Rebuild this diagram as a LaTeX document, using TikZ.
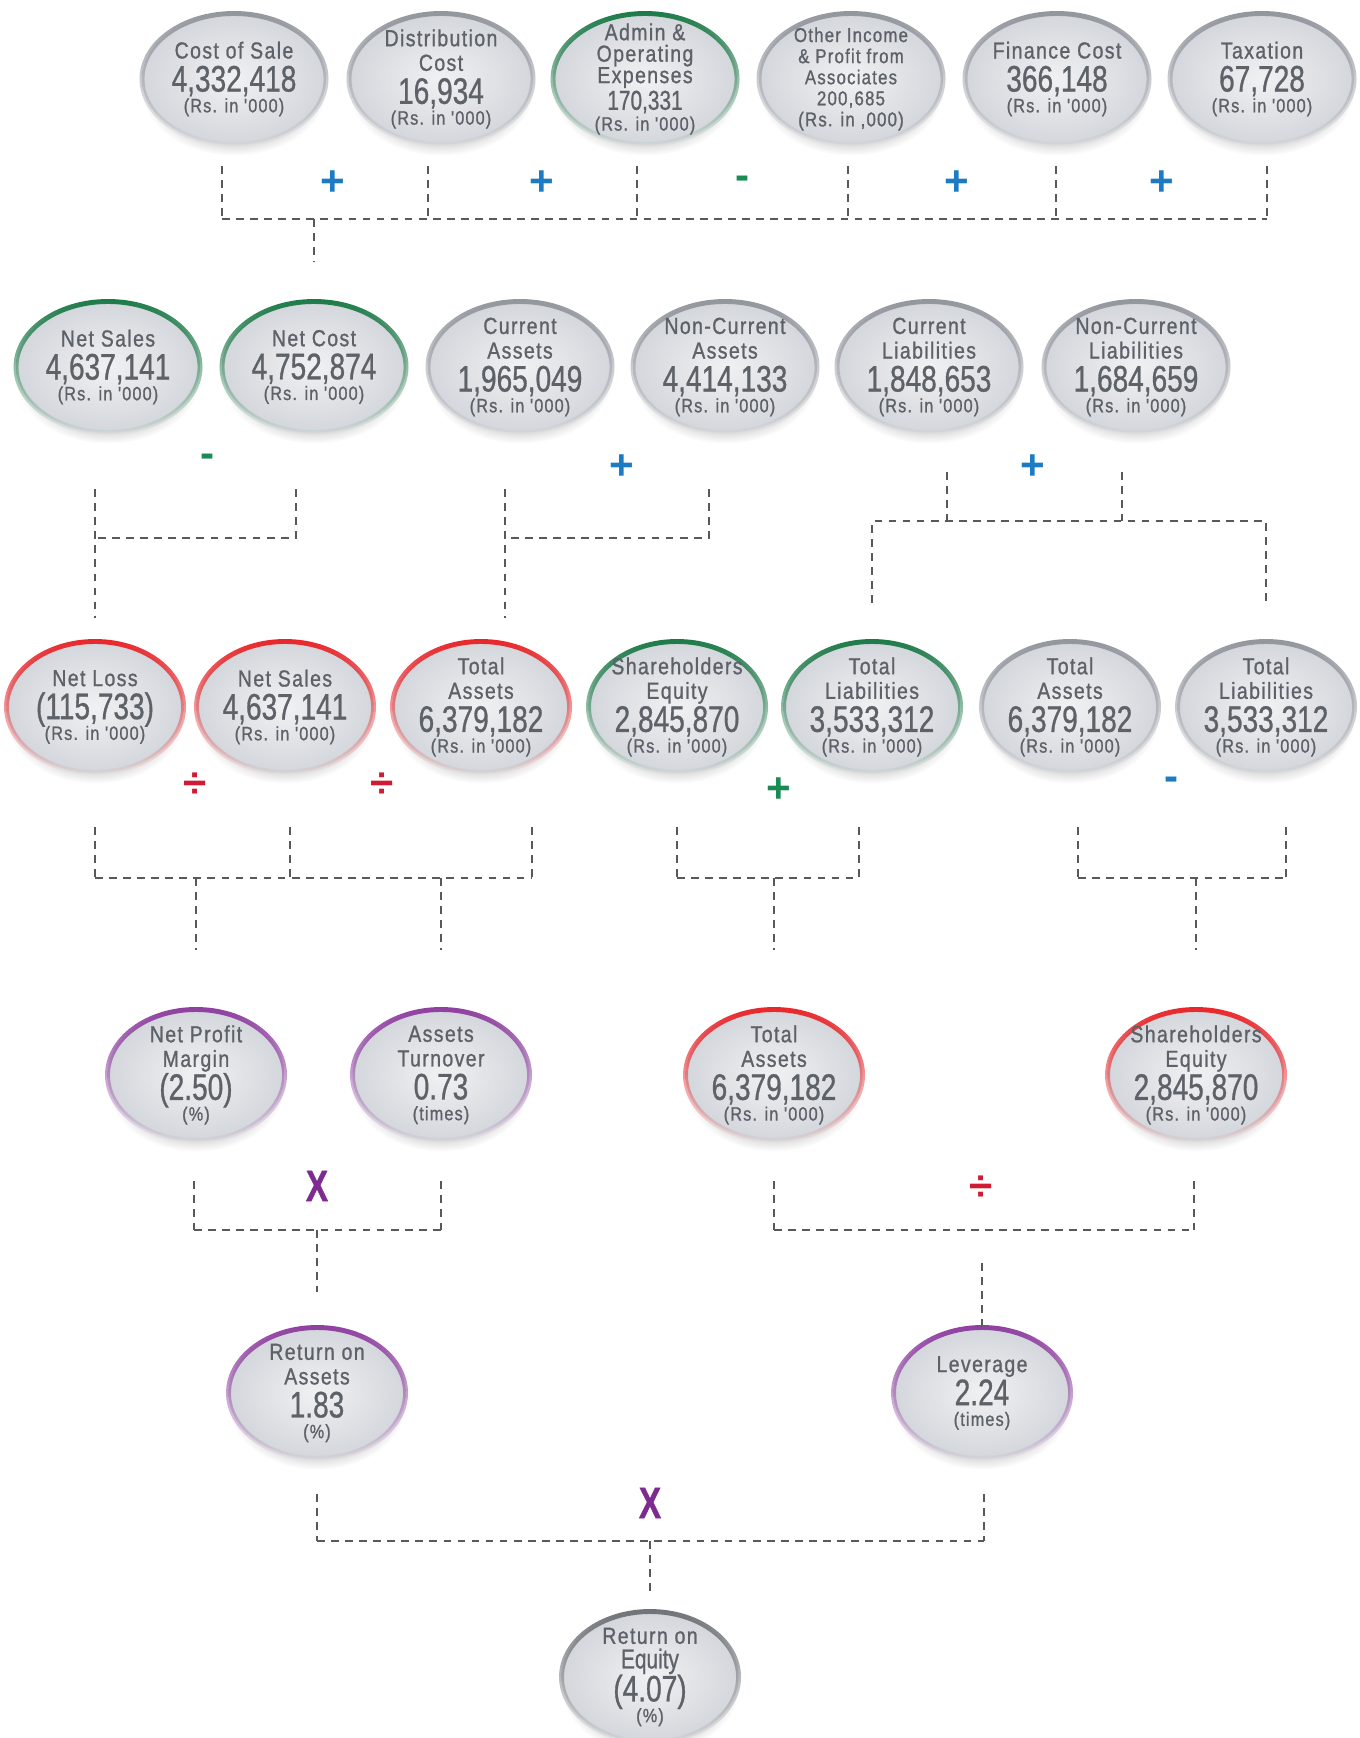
\documentclass[tikz,border=0pt]{standalone}
\usepackage{fontspec}
\usepackage{xcolor}
\usetikzlibrary{shapes.geometric,fadings}

\setmainfont{Liberation Sans}
\newfontfamily\trackfont[FakeStretch=0.84,LetterSpace=6,FakeBold=1]{Liberation Sans}
\newfontfamily\condfont[FakeStretch=0.76,FakeBold=0.8]{Liberation Sans}

\definecolor{txt}{HTML}{5D6168}
\definecolor{ovalin}{HTML}{F0F1F3}
\definecolor{ovalout}{HTML}{D3D6DB}
\definecolor{rimgrey}{HTML}{92969D}
\definecolor{rimdark}{HTML}{6F7277}
\definecolor{rimgreen}{HTML}{1D7A48}
\definecolor{rimred}{HTML}{E8262A}
\definecolor{rimpurple}{HTML}{8F3FA0}
\definecolor{linkgrey}{HTML}{595959}
\definecolor{opblue}{HTML}{1C7BC2}
\definecolor{opgreen}{HTML}{1A8B54}
\definecolor{opred}{HTML}{CF1B34}
\definecolor{oppurple}{HTML}{7D2B90}

\newcommand{\ovalfont}{\trackfont\fontsize{6.6}{7}\selectfont\lineskiplimit=-\maxdimen}
\newcommand{\smallfont}{\trackfont\fontsize{5.7}{6}\selectfont\lineskiplimit=-\maxdimen}
\newcommand{\valfont}{\condfont\fontsize{10.5}{7}\selectfont}
\newcommand{\midfont}{\condfont\fontsize{7.8}{7}\selectfont}
\newcommand{\unitfont}{\trackfont\fontsize{5.5}{7}\selectfont}
\newcommand{\opfont}{\bfseries\fontsize{12}{12}\selectfont}
\newcommand{\crossfont}{\condfont\bfseries\fontsize{12.5}{12}\selectfont}
\newcommand{\val}[1]{\\[2.4pt]{\valfont #1}\\[-1.1pt]}
\newcommand{\rsunit}{{\unitfont (Rs. in '000)}}

\tikzfading[name=rimfade, top color=transparent!0, middle color=transparent!15, bottom color=transparent!100]

\tikzset{
  oval/.style={ellipse, minimum width=1.84cm, minimum height=1.31cm, inner sep=-1cm,
    align=center, text=txt, font=\ovalfont, inner color=ovalin, outer color=ovalout,
    preaction={fill=black!50, fill opacity=0.3, path fading=circle with fuzzy edge 20 percent,
      transform canvas={yshift=-1.1mm}},
    postaction={draw=#1, line width=1.4pt, path fading=rimfade}},
  oval/.default=rimgrey,
  narrow/.style={minimum width=1.77cm},
  link/.style={draw=linkgrey, line width=0.5pt, dash pattern=on 2.2pt off 1.8pt},
  op/.style={text=#1, inner sep=0pt, font=\opfont},
}

\begin{document}
\begin{tikzpicture}
  \fill[white] (0,0) rectangle (13.6,-17.38);
  \useasboundingbox (0,0) rectangle (13.6,-17.38);

  % costs
  \node[oval] (cos) at (2.34,-0.79) {Cost of Sale\val{4,332,418}\rsunit};
  \node[oval] (dist) at (4.41,-0.79) {Distribution\\Cost\val{16,934}\rsunit};
  \node[oval=rimgreen] (admin) at (6.45,-0.79) {Admin \&\\[-0.9pt]Operating\\[-0.9pt]Expenses\\[0.6pt]{\midfont 170,331}\\[-1.1pt]\rsunit};
  \node[oval, font=\smallfont] (othinc) at (8.51,-0.79) {Other Income\\\& Profit from\\Associates\\200,685\\(Rs. in ,000)};
  \node[oval] (fin) at (10.57,-0.79) {Finance Cost\val{366,148}\rsunit};
  \node[oval] (tax) at (12.62,-0.79) {Taxation\val{67,728}\rsunit};

  % sales, cost and balance sheet
  \node[oval=rimgreen] (nsales) at (1.08,-3.67) {Net Sales\val{4,637,141}\rsunit};
  \node[oval=rimgreen] (ncost) at (3.14,-3.67) {Net Cost\val{4,752,874}\rsunit};
  \node[oval] (curas) at (5.20,-3.67) {Current\\Assets\val{1,965,049}\rsunit};
  \node[oval] (ncuras) at (7.25,-3.67) {Non-Current\\Assets\val{4,414,133}\rsunit};
  \node[oval] (curlb) at (9.29,-3.67) {Current\\Liabilities\val{1,848,653}\rsunit};
  \node[oval] (ncurlb) at (11.36,-3.67) {Non-Current\\Liabilities\val{1,684,659}\rsunit};

  \node[oval=rimred, narrow] (nloss) at (0.95,-7.07) {Net Loss\val{(115,733)}\rsunit};
  \node[oval=rimred, narrow] (nsales2) at (2.85,-7.07) {Net Sales\val{4,637,141}\rsunit};
  \node[oval=rimred, narrow] (tassets) at (4.81,-7.07) {Total\\Assets\val{6,379,182}\rsunit};
  \node[oval=rimgreen, narrow] (sheq) at (6.77,-7.07) {Shareholders\\Equity\val{2,845,870}\rsunit};
  \node[oval=rimgreen, narrow] (tliab) at (8.72,-7.07) {Total\\Liabilities\val{3,533,312}\rsunit};
  \node[oval, narrow] (tassets2) at (10.70,-7.07) {Total\\Assets\val{6,379,182}\rsunit};
  \node[oval, narrow] (tliab2) at (12.66,-7.07) {Total\\Liabilities\val{3,533,312}\rsunit};

  % ratios
  \node[oval=rimpurple, narrow] (npm) at (1.96,-10.75) {Net Profit\\Margin\val{(2.50)}{\unitfont (\%)}};
  \node[oval=rimpurple, narrow] (atover) at (4.41,-10.75) {Assets\\Turnover\val{0.73}{\unitfont (times)}};
  \node[oval=rimred, narrow] (tassets3) at (7.74,-10.75) {Total\\Assets\val{6,379,182}\rsunit};
  \node[oval=rimred, narrow] (sheq2) at (11.96,-10.75) {Shareholders\\Equity\val{2,845,870}\rsunit};

  \node[oval=rimpurple, narrow] (roa) at (3.17,-13.93) {Return on\\Assets\val{1.83}{\unitfont (\%)}};
  \node[oval=rimpurple, narrow] (lev) at (9.82,-13.93) {Leverage\val{2.24}{\unitfont (times)}};

  \node[oval=rimdark, narrow] (roe) at (6.50,-16.77) {Return on\\{\midfont Equity}\val{(4.07)}{\unitfont (\%)}};

  % brackets
  \coordinate (bar1) at (0,-2.19);
  \coordinate (bar2) at (0,-5.38);
  \coordinate (bar3) at (0,-5.21);
  \coordinate (bar4) at (0,-8.78);
  \coordinate (bar5) at (0,-12.30);
  \coordinate (bar6) at (0,-15.41);

  \foreach \n/\d in {cos/-0.12,dist/-0.13,admin/-0.08,othinc/-0.03,fin/-0.01,tax/0.05}
    \draw[link] ([xshift=\d cm,yshift=-0.21cm]\n.south) -- ([xshift=\d cm]\n.south |- bar1);
  \draw[link] ([xshift=-0.12cm]cos.south |- bar1) -- ([xshift=0.05cm]tax.south |- bar1);
  \draw[link] (ncost.north |- bar1) -- ([yshift=0.39cm]ncost.north);

  \draw[link] ([yshift=-0.56cm]nsales.south -| nloss.north) -- ([yshift=0.23cm]nloss.north);
  \draw[link] ([xshift=-0.18cm,yshift=-0.56cm]ncost.south) |- (nloss.north |- bar2);
  \draw[link] ([xshift=-0.15cm,yshift=-0.56cm]curas.south) -- ([xshift=-0.15cm,yshift=0.23cm]curas.south |- tassets.north);
  \draw[link] ([xshift=-0.16cm,yshift=-0.56cm]ncuras.south) |- ([xshift=-0.15cm]curas.south |- bar2);

  \draw[link] ([xshift=0.18cm,yshift=-0.39cm]curlb.south) -- ([xshift=0.18cm]curlb.south |- bar3);
  \draw[link] ([xshift=-0.14cm,yshift=-0.39cm]ncurlb.south) -- ([xshift=-0.14cm]ncurlb.south |- bar3);
  \draw[link] ([yshift=0.38cm]tliab.north) -- (tliab.north |- bar3) -- (tliab2.north |- bar3) -- ([yshift=0.38cm]tliab2.north);

  \foreach \n/\d in {nloss/0,nsales2/0.05,tassets/0.51,sheq/0,tliab/-0.13,tassets2/0.08,tliab2/0.2}
    \draw[link] ([xshift=\d cm,yshift=-0.54cm]\n.south) -- ([xshift=\d cm]\n.south |- bar4);
  \draw[link] (nloss.south |- bar4) -- ([xshift=0.51cm]tassets.south |- bar4);
  \draw[link] (sheq.south |- bar4) -- ([xshift=-0.13cm]tliab.south |- bar4);
  \draw[link] ([xshift=0.08cm]tassets2.south |- bar4) -- ([xshift=0.2cm]tliab2.south |- bar4);
  \foreach \n in {npm,atover,tassets3,sheq2}
    \draw[link] (\n.north |- bar4) -- ([yshift=0.59cm]\n.north);

  \foreach \n/\d in {npm/-0.02,atover/0,tassets3/0,sheq2/-0.02}
    \draw[link] ([xshift=\d cm,yshift=-0.40cm]\n.south) -- ([xshift=\d cm]\n.south |- bar5);
  \draw[link] ([xshift=-0.02cm]npm.south |- bar5) -- (atover.south |- bar5);
  \draw[link] (roa.north |- bar5) -- ([yshift=0.35cm]roa.north);
  \draw[link] (tassets3.south |- bar5) -- ([xshift=-0.02cm]sheq2.south |- bar5);
  \draw[link] ([yshift=-0.33cm]lev.north |- bar5) -- (lev.north);

  \foreach \n/\d in {roa/0,lev/0.02}
    \draw[link] ([xshift=\d cm,yshift=-0.35cm]\n.south) -- ([xshift=\d cm]\n.south |- bar6);
  \draw[link] (roa.south |- bar6) -- ([xshift=0.02cm]lev.south |- bar6);
  \draw[link] (roe.north |- bar6) -- ([yshift=0.15cm]roe.north);

  % operators
  \node[op=opblue] (op1) at (3.33,-1.83) {+};
  \node[op=opblue] (op2) at (5.42,-1.83) {+};
  \node[op=opgreen] (op3) at (7.43,-1.83) {-};
  \node[op=opblue] (op4) at (9.57,-1.83) {+};
  \node[op=opblue] (op5) at (11.62,-1.83) {+};
  \node[op=opgreen] (op6) at (2.08,-4.61) {-};
  \node[op=opblue] (op7) at (6.22,-4.67) {+};
  \node[op=opblue] (op8) at (10.33,-4.67) {+};
  \node[op=opred] (op9) at (1.95,-7.85) {÷};
  \node[op=opred] (op10) at (3.82,-7.85) {÷};
  \node[op=opgreen] (op11) at (7.79,-7.90) {+};
  \node[op=opblue] (op12) at (11.72,-7.84) {-};
  \node[op=oppurple, font=\crossfont] (op13) at (3.17,-11.86) {X};
  \node[op=opred] (op14) at (9.81,-11.88) {÷};
  \node[op=oppurple, font=\crossfont] (op15) at (6.50,-15.03) {X};
\end{tikzpicture}
\end{document}
